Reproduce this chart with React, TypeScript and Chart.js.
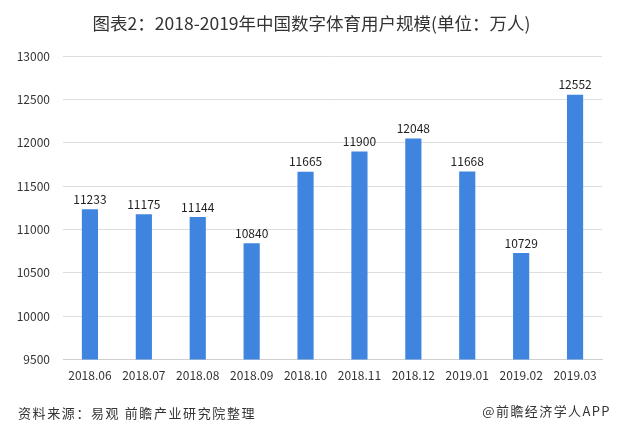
import React, { useEffect, useRef } from "react";
import { Chart, registerables } from "chart.js";

Chart.register(...registerables);

const TITLE = "图表2：2018-2019年中国数字体育用户规模(单位：万人)";
const SOURCE = "资料来源：易观 前瞻产业研究院整理";
const CREDIT = "@前瞻经济学人APP";
const categories = [
  "2018.06", "2018.07", "2018.08", "2018.09", "2018.10",
  "2018.11", "2018.12", "2019.01", "2019.02", "2019.03",
];
const users = [11233, 11175, 11144, 10840, 11665, 11900, 12048, 11668, 10729, 12552];
const yMin = 9500;
const yMax = 13000;
const yStep = 500;

const FONT = "'Noto Sans CJK SC', 'Liberation Sans', sans-serif";

const valueLabels = {
  id: "valueLabels",
  afterDatasetsDraw(chart: any) {
    const ctx = chart.ctx;
    const meta = chart.getDatasetMeta(0);
    ctx.save();
    ctx.font = `12px ${FONT}`;
    ctx.fillStyle = "#222";
    ctx.textAlign = "center";
    ctx.textBaseline = "bottom";
    meta.data.forEach((bar: any, i: number) => {
      ctx.fillText(String(chart.data.datasets[0].data[i]), bar.x, bar.y - 4);
    });
    ctx.restore();
  },
};

export default function App() {
  const ref = useRef<HTMLCanvasElement>(null);
  useEffect(() => {
    document.body.style.margin = "0";
    const chart = new Chart(ref.current!, {
      type: "bar",
      data: {
        labels: categories,
        datasets: [
          {
            data: users,
            backgroundColor: "#3f85e0",
            categoryPercentage: 1,
            barPercentage: 0.3,
          },
        ],
      },
      options: {
        animation: false,
        responsive: false,
        devicePixelRatio: 1,
        layout: { padding: { top: 56, left: 10, right: 21, bottom: 43 } },
        plugins: {
          legend: { display: false },
          tooltip: { enabled: false },
          title: { display: false },
        },
        scales: {
          x: {
            grid: { display: false, drawTicks: false },
            border: { color: "#d0d0d0" },
            ticks: { color: "#333", font: { family: FONT, size: 12 }, padding: 9, maxRotation: 0 },
          },
          y: {
            min: yMin,
            max: yMax,
            grid: { color: "#dedede", drawTicks: false },
            border: { display: false },
            ticks: {
              stepSize: yStep,
              color: "#333",
              font: { family: FONT, size: 12 },
              padding: 13,
              callback: (v: any) => String(v),
            },
            afterFit(scale: any) {
              scale.width = 53;
            },
          },
        },
      },
      plugins: [valueLabels],
    });
    return () => chart.destroy();
  }, []);
  return (
    <div style={{ position: "relative", width: 623, height: 435, background: "#fff" }}>
      <canvas ref={ref} width={623} height={435} style={{ position: "absolute", left: 0, top: 0 }} />
      <div
        style={{
          position: "absolute", top: 11, left: 0, width: 623, textAlign: "center", lineHeight: "24px",
          fontFamily: FONT, fontSize: 17.5, color: "#333", whiteSpace: "nowrap",
        }}
      >
        {TITLE}
      </div>
      <div
        style={{
          position: "absolute", top: 403, left: 18, fontFamily: FONT, fontSize: 13, lineHeight: "20px",
          letterSpacing: 1.6, color: "#333", whiteSpace: "nowrap",
        }}
      >
        {SOURCE}
      </div>
      <div
        style={{
          position: "absolute", top: 401, right: 12, fontFamily: FONT, fontSize: 13, lineHeight: "20px",
          letterSpacing: 1.4, color: "#333", whiteSpace: "nowrap",
        }}
      >
        {CREDIT}
      </div>
    </div>
  );
}
